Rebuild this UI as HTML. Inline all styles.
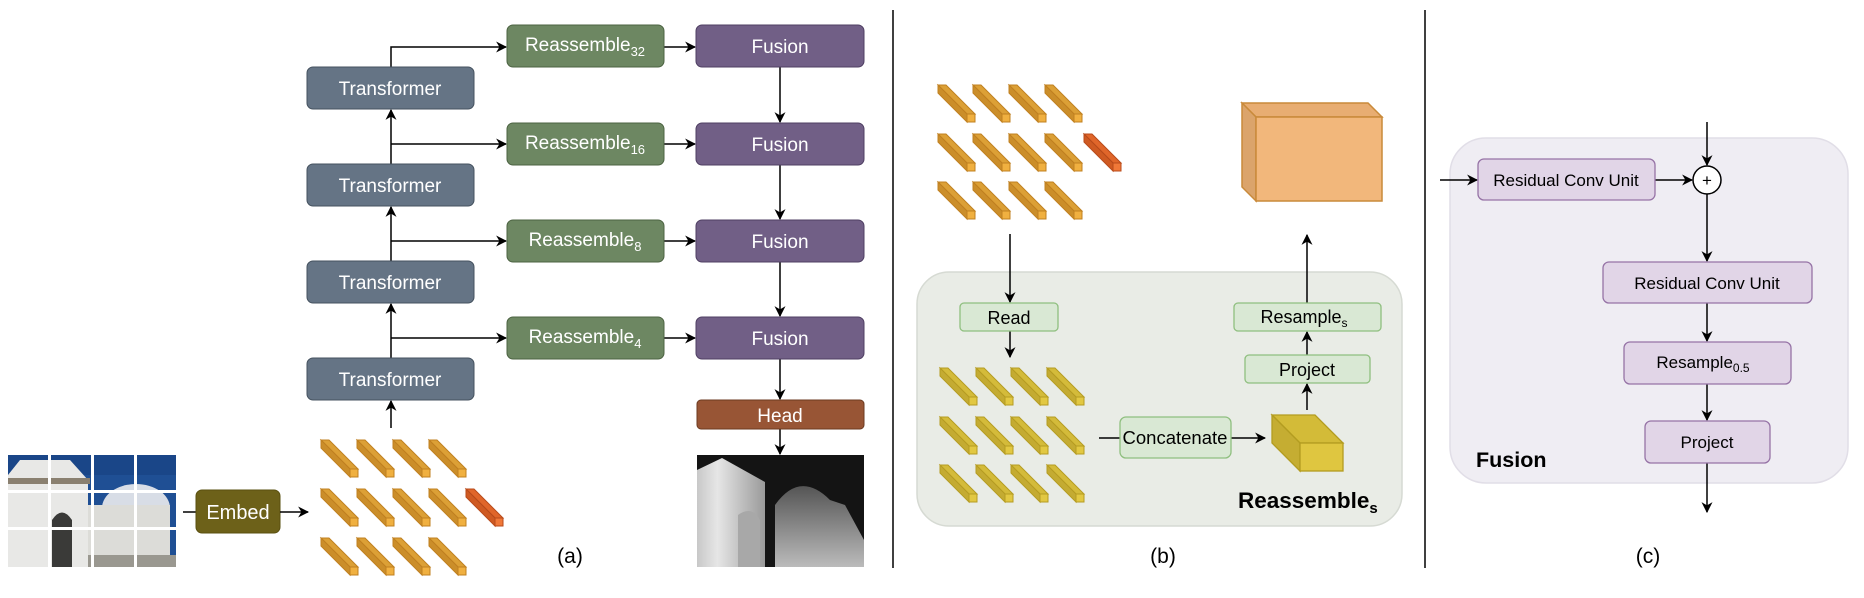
<!DOCTYPE html>
<html><head><meta charset="utf-8"><style>
html,body{margin:0;padding:0;background:#fff;width:1864px;height:598px;overflow:hidden}
svg{display:block;font-family:"Liberation Sans",Arial,sans-serif}
</style></head><body>
<svg width="1864" height="598" viewBox="0 0 1864 598" xmlns="http://www.w3.org/2000/svg">
<defs>
<marker id="ar" viewBox="0 0 10 10" refX="9" refY="5" markerWidth="11" markerHeight="11" markerUnits="userSpaceOnUse" orient="auto">
<path d="M0,0 L10,5 L0,10 L3,5 z" fill="#000"/></marker>
<symbol id="tok" overflow="visible">
<polygon points="0,0 8,0 37,29 29,29" fill="#dca036" stroke="#c08020" stroke-width="1"/>
<polygon points="0,0 29,29 29,37 0,8" fill="#cb8e2a" stroke="#c08020" stroke-width="1"/>
<rect x="29" y="29" width="8" height="8" fill="#f0b040" stroke="#c08020" stroke-width="1"/>
</symbol>
<symbol id="tokr" overflow="visible">
<polygon points="0,0 8,0 37,29 29,29" fill="#e0662a" stroke="#b84a1a" stroke-width="1"/>
<polygon points="0,0 29,29 29,37 0,8" fill="#cf5a22" stroke="#b84a1a" stroke-width="1"/>
<rect x="29" y="29" width="8" height="8" fill="#f07838" stroke="#b84a1a" stroke-width="1"/>
</symbol>
<symbol id="toky" overflow="visible">
<polygon points="0,0 8,0 37,29 29,29" fill="#d4bb3a" stroke="#b59c22" stroke-width="1"/>
<polygon points="0,0 29,29 29,37 0,8" fill="#c4ab32" stroke="#b59c22" stroke-width="1"/>
<rect x="29" y="29" width="8" height="8" fill="#e2c842" stroke="#b59c22" stroke-width="1"/>
</symbol>
<linearGradient id="dg" x1="0" y1="0" x2="1" y2="0">
<stop offset="0" stop-color="#c8c8c8"/><stop offset="0.3" stop-color="#e6e6e6"/><stop offset="1" stop-color="#9a9a9a"/></linearGradient>
<linearGradient id="dg2" x1="0" y1="0" x2="0" y2="1">
<stop offset="0" stop-color="#555"/><stop offset="1" stop-color="#bbb"/></linearGradient>
</defs>

<line x1="893" y1="10" x2="893" y2="568" stroke="#000" stroke-width="1.5"/>
<line x1="1425" y1="10" x2="1425" y2="568" stroke="#000" stroke-width="1.5"/>

<!-- ===== (a) ===== -->
<g>
<rect x="8" y="455" width="168" height="112" fill="#1f4f94"/>
<rect x="8" y="455" width="168" height="20" fill="#1a4688"/>
<polygon points="8,475 20,460 70,460 88,480 88,567 8,567" fill="#e8e8e6"/>
<rect x="8" y="478" width="82" height="6" fill="#8a8070"/>
<path d="M52,567 L52,520 Q62,505 72,520 L72,567 z" fill="#3a3a38"/>
<ellipse cx="136" cy="508" rx="34" ry="24" fill="#d8dde6"/>
<rect x="88" y="505" width="82" height="62" fill="#dcdcd8"/>
<rect x="88" y="555" width="88" height="12" fill="#9a9890"/>
<g fill="#fff">
<rect x="8" y="490" width="168" height="3"/><rect x="8" y="527" width="168" height="3"/>
<rect x="48" y="455" width="3" height="112"/><rect x="91" y="455" width="3" height="112"/><rect x="134" y="455" width="3" height="112"/>
</g>
</g>
<line x1="183" y1="512" x2="196" y2="512" stroke="#000" stroke-width="1.5"/>
<rect x="196" y="490" width="84" height="43" rx="6" fill="#6d6119" stroke="#5a5010"/>
<text x="238" y="519" font-size="20" fill="#fff" text-anchor="middle">Embed</text>
<line x1="280" y1="512" x2="308" y2="512" stroke="#000" stroke-width="1.5" marker-end="url(#ar)"/>

<use href="#tok" x="321" y="440"/><use href="#tok" x="357" y="440"/><use href="#tok" x="393" y="440"/><use href="#tok" x="429" y="440"/>
<use href="#tok" x="321" y="489"/><use href="#tok" x="357" y="489"/><use href="#tok" x="393" y="489"/><use href="#tok" x="429" y="489"/><use href="#tokr" x="466" y="489"/>
<use href="#tok" x="321" y="538"/><use href="#tok" x="357" y="538"/><use href="#tok" x="393" y="538"/><use href="#tok" x="429" y="538"/>

<g stroke="#000" stroke-width="1.5" fill="none">
<line x1="391" y1="428" x2="391" y2="401" marker-end="url(#ar)"/>
<line x1="391" y1="358" x2="391" y2="304" marker-end="url(#ar)"/>
<line x1="391" y1="261" x2="391" y2="207" marker-end="url(#ar)"/>
<line x1="391" y1="164" x2="391" y2="110" marker-end="url(#ar)"/>
<polyline points="391,67 391,47 506,47" marker-end="url(#ar)"/>
<line x1="391" y1="144" x2="506" y2="144" marker-end="url(#ar)"/>
<line x1="391" y1="241" x2="506" y2="241" marker-end="url(#ar)"/>
<line x1="391" y1="338" x2="506" y2="338" marker-end="url(#ar)"/>
<line x1="664" y1="47" x2="695" y2="47" marker-end="url(#ar)"/>
<line x1="664" y1="144" x2="695" y2="144" marker-end="url(#ar)"/>
<line x1="664" y1="241" x2="695" y2="241" marker-end="url(#ar)"/>
<line x1="664" y1="338" x2="695" y2="338" marker-end="url(#ar)"/>
<line x1="780" y1="67" x2="780" y2="122" marker-end="url(#ar)"/>
<line x1="780" y1="165" x2="780" y2="219" marker-end="url(#ar)"/>
<line x1="780" y1="262" x2="780" y2="316" marker-end="url(#ar)"/>
<line x1="780" y1="359" x2="780" y2="399" marker-end="url(#ar)"/>
<line x1="780" y1="429" x2="780" y2="454" marker-end="url(#ar)"/>
</g>

<g fill="#657485" stroke="#45525f">
<rect x="307" y="67" width="167" height="42" rx="6"/>
<rect x="307" y="164" width="167" height="42" rx="6"/>
<rect x="307" y="261" width="167" height="42" rx="6"/>
<rect x="307" y="358" width="167" height="42" rx="6"/>
</g>
<g fill="#fff" font-size="19" text-anchor="middle">
<text x="390" y="95">Transformer</text><text x="390" y="192">Transformer</text>
<text x="390" y="289">Transformer</text><text x="390" y="386">Transformer</text>
</g>
<g fill="#6d8762" stroke="#4c6342">
<rect x="507" y="25" width="157" height="42" rx="6"/>
<rect x="507" y="123" width="157" height="42" rx="6"/>
<rect x="507" y="220" width="157" height="42" rx="6"/>
<rect x="507" y="317" width="157" height="42" rx="6"/>
</g>
<g fill="#fff" font-size="19" text-anchor="middle">
<text x="585" y="51">Reassemble<tspan font-size="13" dy="5">32</tspan></text>
<text x="585" y="149">Reassemble<tspan font-size="13" dy="5">16</tspan></text>
<text x="585" y="246">Reassemble<tspan font-size="13" dy="5">8</tspan></text>
<text x="585" y="343">Reassemble<tspan font-size="13" dy="5">4</tspan></text>
</g>
<g fill="#715f86" stroke="#4f3f63">
<rect x="696" y="25" width="168" height="42" rx="6"/>
<rect x="696" y="123" width="168" height="42" rx="6"/>
<rect x="696" y="220" width="168" height="42" rx="6"/>
<rect x="696" y="317" width="168" height="42" rx="6"/>
</g>
<g fill="#fff" font-size="19" text-anchor="middle">
<text x="780" y="53">Fusion</text><text x="780" y="151">Fusion</text>
<text x="780" y="248">Fusion</text><text x="780" y="345">Fusion</text>
</g>
<rect x="697" y="400" width="167" height="29" rx="4" fill="#985535" stroke="#6b3a20"/>
<text x="780" y="422" fill="#fff" font-size="19" text-anchor="middle">Head</text>
<rect x="697" y="455" width="167" height="112" fill="#141414"/>
<polygon points="697,470 722,458 765,482 765,567 697,567" fill="url(#dg)"/>
<path d="M775,567 L775,505 Q800,470 830,500 L845,505 L864,540 L864,567 z" fill="url(#dg2)"/>
<path d="M738,567 L738,515 Q752,505 760,520 L760,567 z" fill="#a8a8a8"/>
<text x="570" y="563" font-size="21" text-anchor="middle">(a)</text>

<!-- ===== (b) ===== -->
<use href="#tok" x="938" y="85"/><use href="#tok" x="973" y="85"/><use href="#tok" x="1009" y="85"/><use href="#tok" x="1045" y="85"/>
<use href="#tok" x="938" y="134"/><use href="#tok" x="973" y="134"/><use href="#tok" x="1009" y="134"/><use href="#tok" x="1045" y="134"/><use href="#tokr" x="1084" y="134"/>
<use href="#tok" x="938" y="182"/><use href="#tok" x="973" y="182"/><use href="#tok" x="1009" y="182"/><use href="#tok" x="1045" y="182"/>
<polygon points="1242,103 1368,103 1382,117 1256,117" fill="#e8ad72" stroke="#c98a3a" stroke-width="1.5"/>
<polygon points="1242,103 1256,117 1256,201 1242,187" fill="#dba46b" stroke="#c98a3a" stroke-width="1.5"/>
<rect x="1256" y="117" width="126" height="84" fill="#f2b77b" stroke="#c98a3a" stroke-width="1.5"/>

<rect x="917" y="272" width="485" height="254" rx="32" fill="#e9ece6" stroke="#d6dad3" stroke-width="1.5"/>
<g stroke="#000" stroke-width="1.5" fill="none">
<line x1="1010" y1="234" x2="1010" y2="302" marker-end="url(#ar)"/>
<line x1="1010" y1="331" x2="1010" y2="357" marker-end="url(#ar)"/>
<line x1="1099" y1="438" x2="1120" y2="438"/>
<line x1="1231" y1="438" x2="1265" y2="438" marker-end="url(#ar)"/>
<line x1="1307" y1="410" x2="1307" y2="384" marker-end="url(#ar)"/>
<line x1="1307" y1="355" x2="1307" y2="332" marker-end="url(#ar)"/>
<line x1="1307" y1="303" x2="1307" y2="235" marker-end="url(#ar)"/>
</g>
<g fill="#d9e8d4" stroke="#8fbf7f" stroke-width="1.3">
<rect x="960" y="303" width="98" height="28" rx="4"/>
<rect x="1120" y="417" width="111" height="41" rx="6"/>
<rect x="1245" y="355" width="125" height="28" rx="4"/>
<rect x="1234" y="303" width="147" height="28" rx="4"/>
</g>
<g font-size="18" text-anchor="middle" fill="#000">
<text x="1009" y="324">Read</text>
<text x="1175" y="444" font-size="18.5">Concatenate</text>
<text x="1307" y="376">Project</text>
<text x="1304" y="323">Resample<tspan font-size="12" dy="4">s</tspan></text>
</g>
<use href="#toky" x="940" y="368"/><use href="#toky" x="976" y="368"/><use href="#toky" x="1011" y="368"/><use href="#toky" x="1047" y="368"/>
<use href="#toky" x="940" y="417"/><use href="#toky" x="976" y="417"/><use href="#toky" x="1011" y="417"/><use href="#toky" x="1047" y="417"/>
<use href="#toky" x="940" y="465"/><use href="#toky" x="976" y="465"/><use href="#toky" x="1011" y="465"/><use href="#toky" x="1047" y="465"/>
<polygon points="1272,415 1315,415 1343,443 1300,443" fill="#d3bb38" stroke="#b39c20" stroke-width="1.3"/>
<polygon points="1272,415 1300,443 1300,471 1272,443" fill="#c5ad32" stroke="#b39c20" stroke-width="1.3"/>
<rect x="1300" y="443" width="43" height="28" fill="#dfc640" stroke="#b39c20" stroke-width="1.3"/>
<text x="1238" y="508" font-size="22.5" font-weight="bold">Reassemble<tspan font-size="15" dy="5">s</tspan></text>
<text x="1163" y="563" font-size="21" text-anchor="middle">(b)</text>

<!-- ===== (c) ===== -->
<rect x="1450" y="138" width="398" height="345" rx="36" fill="#efedf3" stroke="#e1dee7" stroke-width="1.5"/>
<g stroke="#000" stroke-width="1.5" fill="none">
<line x1="1440" y1="180" x2="1477" y2="180" marker-end="url(#ar)"/>
<line x1="1655" y1="180" x2="1692" y2="180" marker-end="url(#ar)"/>
<line x1="1707" y1="122" x2="1707" y2="165" marker-end="url(#ar)"/>
<line x1="1707" y1="194" x2="1707" y2="261" marker-end="url(#ar)"/>
<line x1="1707" y1="303" x2="1707" y2="341" marker-end="url(#ar)"/>
<line x1="1707" y1="384" x2="1707" y2="420" marker-end="url(#ar)"/>
<line x1="1707" y1="463" x2="1707" y2="512" marker-end="url(#ar)"/>
</g>
<circle cx="1707" cy="180" r="14" fill="#fff" stroke="#000" stroke-width="1.5"/>
<text x="1707" y="186" font-size="17" text-anchor="middle">+</text>
<g fill="#e1d5e7" stroke="#9673a6" stroke-width="1.3">
<rect x="1478" y="159" width="177" height="41" rx="6"/>
<rect x="1603" y="262" width="209" height="41" rx="6"/>
<rect x="1624" y="342" width="167" height="42" rx="6"/>
<rect x="1645" y="421" width="125" height="42" rx="6"/>
</g>
<g font-size="17" text-anchor="middle" fill="#000">
<text x="1566" y="186">Residual Conv Unit</text>
<text x="1707" y="289">Residual Conv Unit</text>
<text x="1703" y="368">Resample<tspan font-size="12" dy="4">0.5</tspan></text>
<text x="1707" y="448">Project</text>
</g>
<text x="1476" y="467" font-size="21.5" font-weight="bold">Fusion</text>
<text x="1648" y="563" font-size="21" text-anchor="middle">(c)</text>
</svg>
</body></html>
